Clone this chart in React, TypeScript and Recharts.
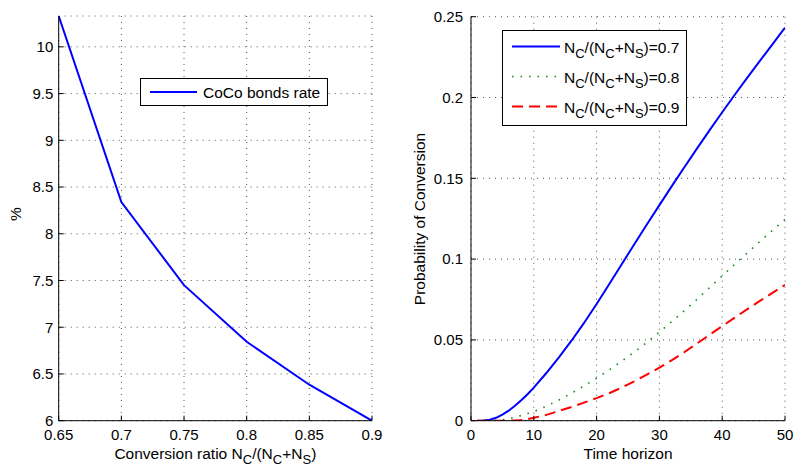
import React from 'react';
import { LineChart, Line, XAxis, YAxis, CartesianGrid, Legend } from 'recharts';

// ---------- Left panel data ----------
const ratioCategories = [0.65, 0.7, 0.75, 0.8, 0.85, 0.9];
const cocoRate = [10.33, 8.34, 7.45, 6.845, 6.385, 6.0];
const ratioTicks = [0.65, 0.7, 0.75, 0.8, 0.85, 0.9];
const rateTicks = [6, 6.5, 7, 7.5, 8, 8.5, 9, 9.5, 10];

// ---------- Right panel data ----------
const timeHorizon = [1, 2, 3, 4, 5, 6, 7, 8, 9, 10, 12, 14, 16, 18, 20, 22, 24, 26, 28, 30, 32, 34, 36, 38, 40, 42, 44, 46, 48, 50];
const prob07 = [0, 0.0001, 0.0006, 0.0018, 0.0038, 0.0062, 0.0092, 0.0126, 0.0164, 0.0205, 0.0295, 0.0392, 0.0495, 0.0605, 0.0722, 0.0844, 0.0968, 0.1092, 0.1214, 0.1334, 0.1453, 0.157, 0.1685, 0.1798, 0.1909, 0.2017, 0.2123, 0.2227, 0.2329, 0.2432];
const prob08 = [0, 0, 0, 0.0001, 0.0005, 0.0012, 0.0021, 0.0032, 0.0044, 0.0056, 0.009, 0.0128, 0.017, 0.0215, 0.0263, 0.0314, 0.0368, 0.0425, 0.0485, 0.0548, 0.0614, 0.0682, 0.0752, 0.0824, 0.0896, 0.0968, 0.1039, 0.1109, 0.1178, 0.1246];
const prob09 = [0, 0, 0, 0, 0, 0.0001, 0.0002, 0.0005, 0.001, 0.0018, 0.0036, 0.006, 0.0085, 0.0112, 0.014, 0.017, 0.0205, 0.0243, 0.0285, 0.0328, 0.0375, 0.0425, 0.0478, 0.0532, 0.0585, 0.0638, 0.069, 0.0741, 0.0791, 0.084];
const timeTicks = [0, 10, 20, 30, 40, 50];
const probTicks = [0, 0.05, 0.1, 0.15, 0.2, 0.25];
const ratioLabels = ['0.7', '0.8', '0.9'];

const leftData = ratioCategories.map((x, i) => ({ x, rate: cocoRate[i] }));
const rightData = timeHorizon.map((t, i) => ({ t, p07: prob07[i], p08: prob08[i], p09: prob09[i] }));

const FONT = "'Liberation Sans', Arial, Helvetica, sans-serif";
const TICK_FS = 15;
const LABEL_FS = 15.5;
const SUB_FS = 13;
const TICK_LEN = 5;

const fmt = (v: number) => String(v);

const BottomTick = (props: any) => {
  const { x, y, payload } = props;
  return (
    <g>
      <line x1={x} x2={x} y1={y} y2={y - TICK_LEN} stroke="#000" strokeWidth={1} />
      <text x={x} y={y + 19.5} textAnchor="middle" fontSize={TICK_FS} fontFamily={FONT} fill="#000">
        {fmt(payload.value)}
      </text>
    </g>
  );
};

const makeLeftTick = (gap: number) => (props: any) => {
  const { x, y, payload } = props;
  return (
    <g>
      <line x1={x} x2={x + TICK_LEN} y1={y} y2={y} stroke="#000" strokeWidth={1} />
      <text x={x - gap} y={y + 5.3} textAnchor="end" fontSize={TICK_FS} fontFamily={FONT} fill="#000">
        {fmt(payload.value)}
      </text>
    </g>
  );
};

const TopTick = (props: any) => {
  const { x, y } = props;
  return <line x1={x} x2={x} y1={y} y2={y + TICK_LEN} stroke="#000" strokeWidth={1} />;
};

const RightTick = (props: any) => {
  const { x, y } = props;
  return <line x1={x} x2={x - TICK_LEN} y1={y} y2={y} stroke="#000" strokeWidth={1} />;
};

const RatioText = ({ prefix, suffix }: { prefix: string; suffix: string }) => (
  <>
    {prefix}N
    <tspan dy={5} fontSize={SUB_FS}>C</tspan>
    <tspan dy={-5}>/(N</tspan>
    <tspan dy={5} fontSize={SUB_FS}>C</tspan>
    <tspan dy={-5}>+N</tspan>
    <tspan dy={5} fontSize={SUB_FS}>S</tspan>
    <tspan dy={-5}>){suffix}</tspan>
  </>
);

const LeftXLabel = (props: any) => {
  const vb = props.viewBox;
  return (
    <text x={vb.x + vb.width / 2} y={vb.y + 38} textAnchor="middle" fontSize={LABEL_FS} fontFamily={FONT} fill="#000">
      <RatioText prefix="Conversion ratio " suffix="" />
    </text>
  );
};

const RightXLabel = (props: any) => {
  const vb = props.viewBox;
  return (
    <text x={vb.x + vb.width / 2} y={vb.y + 38} textAnchor="middle" fontSize={LABEL_FS} fontFamily={FONT} fill="#000">
      Time horizon
    </text>
  );
};

const PercentLabel = () => (
  <text x={21} y={214} transform="rotate(-90 21 214)" textAnchor="middle" fontSize={LABEL_FS} fontFamily={FONT} fill="#000">
    %
  </text>
);

const ProbLabel = () => (
  <text x={25} y={219} transform="rotate(-90 25 219)" textAnchor="middle" fontSize={LABEL_FS} fontFamily={FONT} fill="#000">
    Probability of Conversion
  </text>
);

const LeftLegend = () => (
  <div style={{ width: 188, height: 28, border: '1px solid #000', background: '#fff', boxSizing: 'border-box' }}>
    <svg width={186} height={26} style={{ display: 'block' }}>
      <line x1={9} x2={56} y1={13} y2={13} stroke="#0000ff" strokeWidth={2} />
      <text x={62} y={19} fontSize={LABEL_FS} fontFamily={FONT} fill="#000">CoCo bonds rate</text>
    </svg>
  </div>
);

const legendStyles = [
  { stroke: '#0000ff', dash: undefined as string | undefined, w: 2 },
  { stroke: '#1a8c1a', dash: '1.6 6.9', w: 1.6 },
  { stroke: '#ff0000', dash: '11 6', w: 2 },
];

const RightLegend = () => (
  <div style={{ width: 185, height: 96, border: '1px solid #000', background: '#fff', boxSizing: 'border-box' }}>
    <svg width={183} height={94} style={{ display: 'block' }}>
      {ratioLabels.map((lab, i) => {
        const cy = 15.5 + i * 30;
        const s = legendStyles[i];
        return (
          <g key={lab}>
            <line x1={9} x2={57} y1={cy} y2={cy} stroke={s.stroke} strokeWidth={s.w} strokeDasharray={s.dash} />
            <text x={61} y={cy + 6} fontSize={LABEL_FS} fontFamily={FONT} fill="#000">
              <RatioText prefix="" suffix={'=' + lab} />
            </text>
          </g>
        );
      })}
    </svg>
  </div>
);

const GRID = { stroke: '#555', strokeDasharray: '1 5', strokeWidth: 1 };

export default function App() {
  return (
    <div style={{ position: 'absolute', left: 0, top: 0, width: 795, height: 464, background: '#fff', overflow: 'hidden' }}>
      <div style={{ position: 'absolute', left: 0, top: 0 }}>
        <LineChart width={400} height={464} data={leftData} margin={{ top: 16, right: 28, bottom: 0, left: 0 }}>
          <CartesianGrid {...GRID} />
          <XAxis
            dataKey="x"
            type="number"
            domain={[0.65, 0.9]}
            ticks={ratioTicks}
            allowDataOverflow
            height={43.3}
            tickSize={0}
            tickMargin={0}
            interval={0}
            stroke="#000"
            tick={<BottomTick />}
            label={<LeftXLabel />}
          />
          <XAxis xAxisId="top" dataKey="x" type="number" orientation="top" domain={[0.65, 0.9]} ticks={ratioTicks} allowDataOverflow height={0} tickSize={0} tickMargin={0} interval={0} stroke="#000" tick={<TopTick />} />
          <YAxis
            type="number"
            domain={[6, 10.33]}
            ticks={rateTicks}
            allowDataOverflow
            width={58.7}
            tickSize={0}
            tickMargin={0}
            interval={0}
            stroke="#000"
            tick={makeLeftTick(5.4)}
            label={<PercentLabel />}
          />
          <YAxis yAxisId="right" type="number" orientation="right" domain={[6, 10.33]} ticks={rateTicks} allowDataOverflow width={0} tickSize={0} tickMargin={0} interval={0} stroke="#000" tick={<RightTick />} />
          <Line dataKey="rate" stroke="#0000ff" strokeWidth={2} dot={false} isAnimationActive={false} />
          <Legend
            layout="vertical"
            align="center"
            verticalAlign="middle"
            content={() => <LeftLegend />}
            wrapperStyle={{ left: 140, top: 78, width: 188, height: 28 }}
          />
        </LineChart>
      </div>
      <div style={{ position: 'absolute', left: 400, top: 0 }}>
        <LineChart width={395} height={464} data={rightData} margin={{ top: 16.7, right: 10, bottom: 0, left: 0 }}>
          <CartesianGrid {...GRID} />
          <XAxis
            dataKey="t"
            type="number"
            domain={[0, 50]}
            ticks={timeTicks}
            allowDataOverflow
            height={43.3}
            tickSize={0}
            tickMargin={0}
            interval={0}
            stroke="#000"
            tick={<BottomTick />}
            label={<RightXLabel />}
          />
          <XAxis xAxisId="top" dataKey="t" type="number" orientation="top" domain={[0, 50]} ticks={timeTicks} allowDataOverflow height={0} tickSize={0} tickMargin={0} interval={0} stroke="#000" tick={<TopTick />} />
          <YAxis
            type="number"
            domain={[0, 0.25]}
            ticks={probTicks}
            allowDataOverflow
            width={71}
            tickSize={0}
            tickMargin={0}
            interval={0}
            stroke="#000"
            tick={makeLeftTick(8)}
            label={<ProbLabel />}
          />
          <YAxis yAxisId="right" type="number" orientation="right" domain={[0, 0.25]} ticks={probTicks} allowDataOverflow width={0} tickSize={0} tickMargin={0} interval={0} stroke="#000" tick={<RightTick />} />
          <Line dataKey="p07" stroke="#0000ff" strokeWidth={2} dot={false} isAnimationActive={false} />
          <Line dataKey="p08" stroke="#1a8c1a" strokeWidth={1.6} strokeDasharray="1.6 6.9" dot={false} isAnimationActive={false} />
          <Line dataKey="p09" stroke="#ff0000" strokeWidth={2} strokeDasharray="11 6" dot={false} isAnimationActive={false} />
          <Legend
            layout="vertical"
            align="center"
            verticalAlign="middle"
            content={() => <RightLegend />}
            wrapperStyle={{ left: 101.7, top: 30, width: 185, height: 96 }}
          />
        </LineChart>
      </div>
    </div>
  );
}
